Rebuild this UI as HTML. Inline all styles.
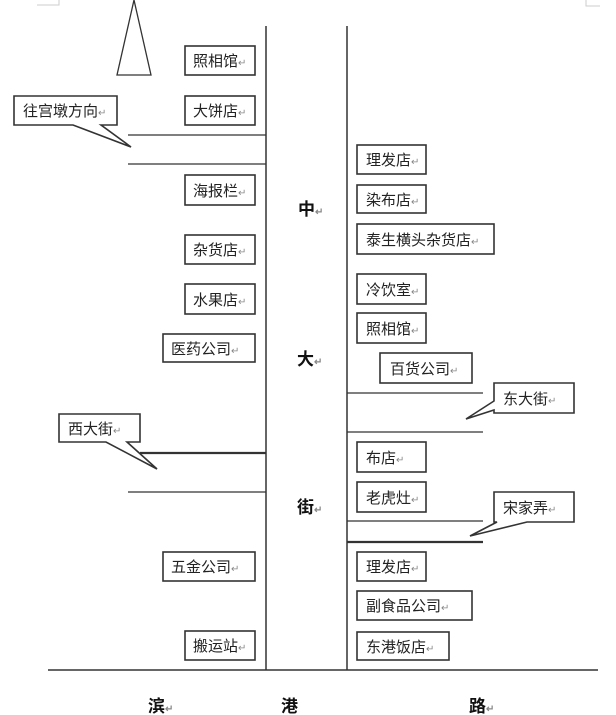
<!DOCTYPE html>
<html><head><meta charset="utf-8"><style>
html,body{margin:0;padding:0;background:#fff;}
svg{display:block;font-family:"Liberation Sans","Noto Sans CJK SC",sans-serif;}
text{font-size:15px;fill:#222;}
.b{font-weight:bold;font-size:17px;fill:#111;}
.m{font-size:10px;fill:#888;}
</style></head><body>
<svg width="616" height="715" viewBox="0 0 616 715" xmlns="http://www.w3.org/2000/svg">
<g stroke="#ccc" fill="none" stroke-width="1"><path d="M37 5H59V0"/><path d="M586 0V6H600"/></g>
<polygon points="134,0 117,75 151,75" fill="#fff" stroke="#333" stroke-width="1.3"/>
<g stroke="#333" stroke-width="1.5">
<line x1="266" y1="26" x2="266" y2="670"/>
<line x1="347" y1="26" x2="347" y2="670"/>
<line x1="48" y1="670" x2="598" y2="670"/>
<line x1="128" y1="135" x2="266" y2="135" stroke-width="1.2"/>
<line x1="128" y1="164" x2="266" y2="164" stroke-width="1.2"/>
<line x1="140" y1="453" x2="266" y2="453" stroke-width="2.2"/>
<line x1="128" y1="492" x2="266" y2="492" stroke-width="1.2"/>
<line x1="347" y1="393" x2="483" y2="393" stroke-width="1.2"/>
<line x1="347" y1="432" x2="483" y2="432" stroke-width="1.2"/>
<line x1="347" y1="521" x2="483" y2="521" stroke-width="1.2"/>
<line x1="347" y1="542" x2="483" y2="542" stroke-width="2.2"/>
</g>
<g fill="#fff" stroke="#333" stroke-width="1.6">
<rect x="185" y="46" width="70" height="29"/>
<rect x="185" y="96" width="70" height="29"/>
<rect x="185" y="175" width="70" height="30"/>
<rect x="185" y="235" width="70" height="29"/>
<rect x="185" y="284" width="70" height="30"/>
<rect x="163" y="334" width="92" height="28"/>
<rect x="163" y="552" width="92" height="29"/>
<rect x="185" y="631" width="70" height="29"/>
<rect x="357" y="145" width="69" height="29"/>
<rect x="357" y="185" width="69" height="28"/>
<rect x="357" y="224" width="137" height="30"/>
<rect x="357" y="274" width="69" height="30"/>
<rect x="357" y="313" width="69" height="30"/>
<rect x="380" y="353" width="92" height="30"/>
<rect x="357" y="442" width="69" height="30"/>
<rect x="357" y="482" width="69" height="30"/>
<rect x="357" y="552" width="69" height="29"/>
<rect x="357" y="591" width="115" height="29"/>
<rect x="357" y="632" width="92" height="28"/>
<path d="M14 96H117V125H101L131 147L73 125H14Z"/>
<path d="M59 414H140V442H127L157 469L106 442H59Z"/>
<path d="M494 383H574V413H494V410L466 419L494 401Z"/>
<path d="M494 492H574V522H527L470 536L497 522H494Z"/>
</g>
<g>
<text x="193" y="66">照相馆<tspan class="m">↵</tspan></text>
<text x="193" y="116">大饼店<tspan class="m">↵</tspan></text>
<text x="193" y="196">海报栏<tspan class="m">↵</tspan></text>
<text x="193" y="255">杂货店<tspan class="m">↵</tspan></text>
<text x="193" y="305">水果店<tspan class="m">↵</tspan></text>
<text x="171" y="354">医药公司<tspan class="m">↵</tspan></text>
<text x="171" y="572">五金公司<tspan class="m">↵</tspan></text>
<text x="193" y="651">搬运站<tspan class="m">↵</tspan></text>
<text x="23" y="116">往宫墩方向<tspan class="m">↵</tspan></text>
<text x="68" y="434">西大街<tspan class="m">↵</tspan></text>
<text x="366" y="165">理发店<tspan class="m">↵</tspan></text>
<text x="366" y="205">染布店<tspan class="m">↵</tspan></text>
<text x="366" y="245">泰生横头杂货店<tspan class="m">↵</tspan></text>
<text x="366" y="295">冷饮室<tspan class="m">↵</tspan></text>
<text x="366" y="334">照相馆<tspan class="m">↵</tspan></text>
<text x="390" y="374">百货公司<tspan class="m">↵</tspan></text>
<text x="366" y="463">布店<tspan class="m">↵</tspan></text>
<text x="366" y="503">老虎灶<tspan class="m">↵</tspan></text>
<text x="366" y="572">理发店<tspan class="m">↵</tspan></text>
<text x="366" y="611">副食品公司<tspan class="m">↵</tspan></text>
<text x="366" y="652">东港饭店<tspan class="m">↵</tspan></text>
<text x="503" y="404">东大街<tspan class="m">↵</tspan></text>
<text x="503" y="513">宋家弄<tspan class="m">↵</tspan></text>
<text class="b" x="298" y="215">中<tspan class="m">↵</tspan></text>
<text class="b" x="297" y="365">大<tspan class="m">↵</tspan></text>
<text class="b" x="297" y="513">街<tspan class="m">↵</tspan></text>
<text class="b" x="148" y="712">滨<tspan class="m">↵</tspan></text>
<text class="b" x="281" y="712">港</text>
<text class="b" x="469" y="712">路<tspan class="m">↵</tspan></text>
</g>
</svg>
</body></html>
